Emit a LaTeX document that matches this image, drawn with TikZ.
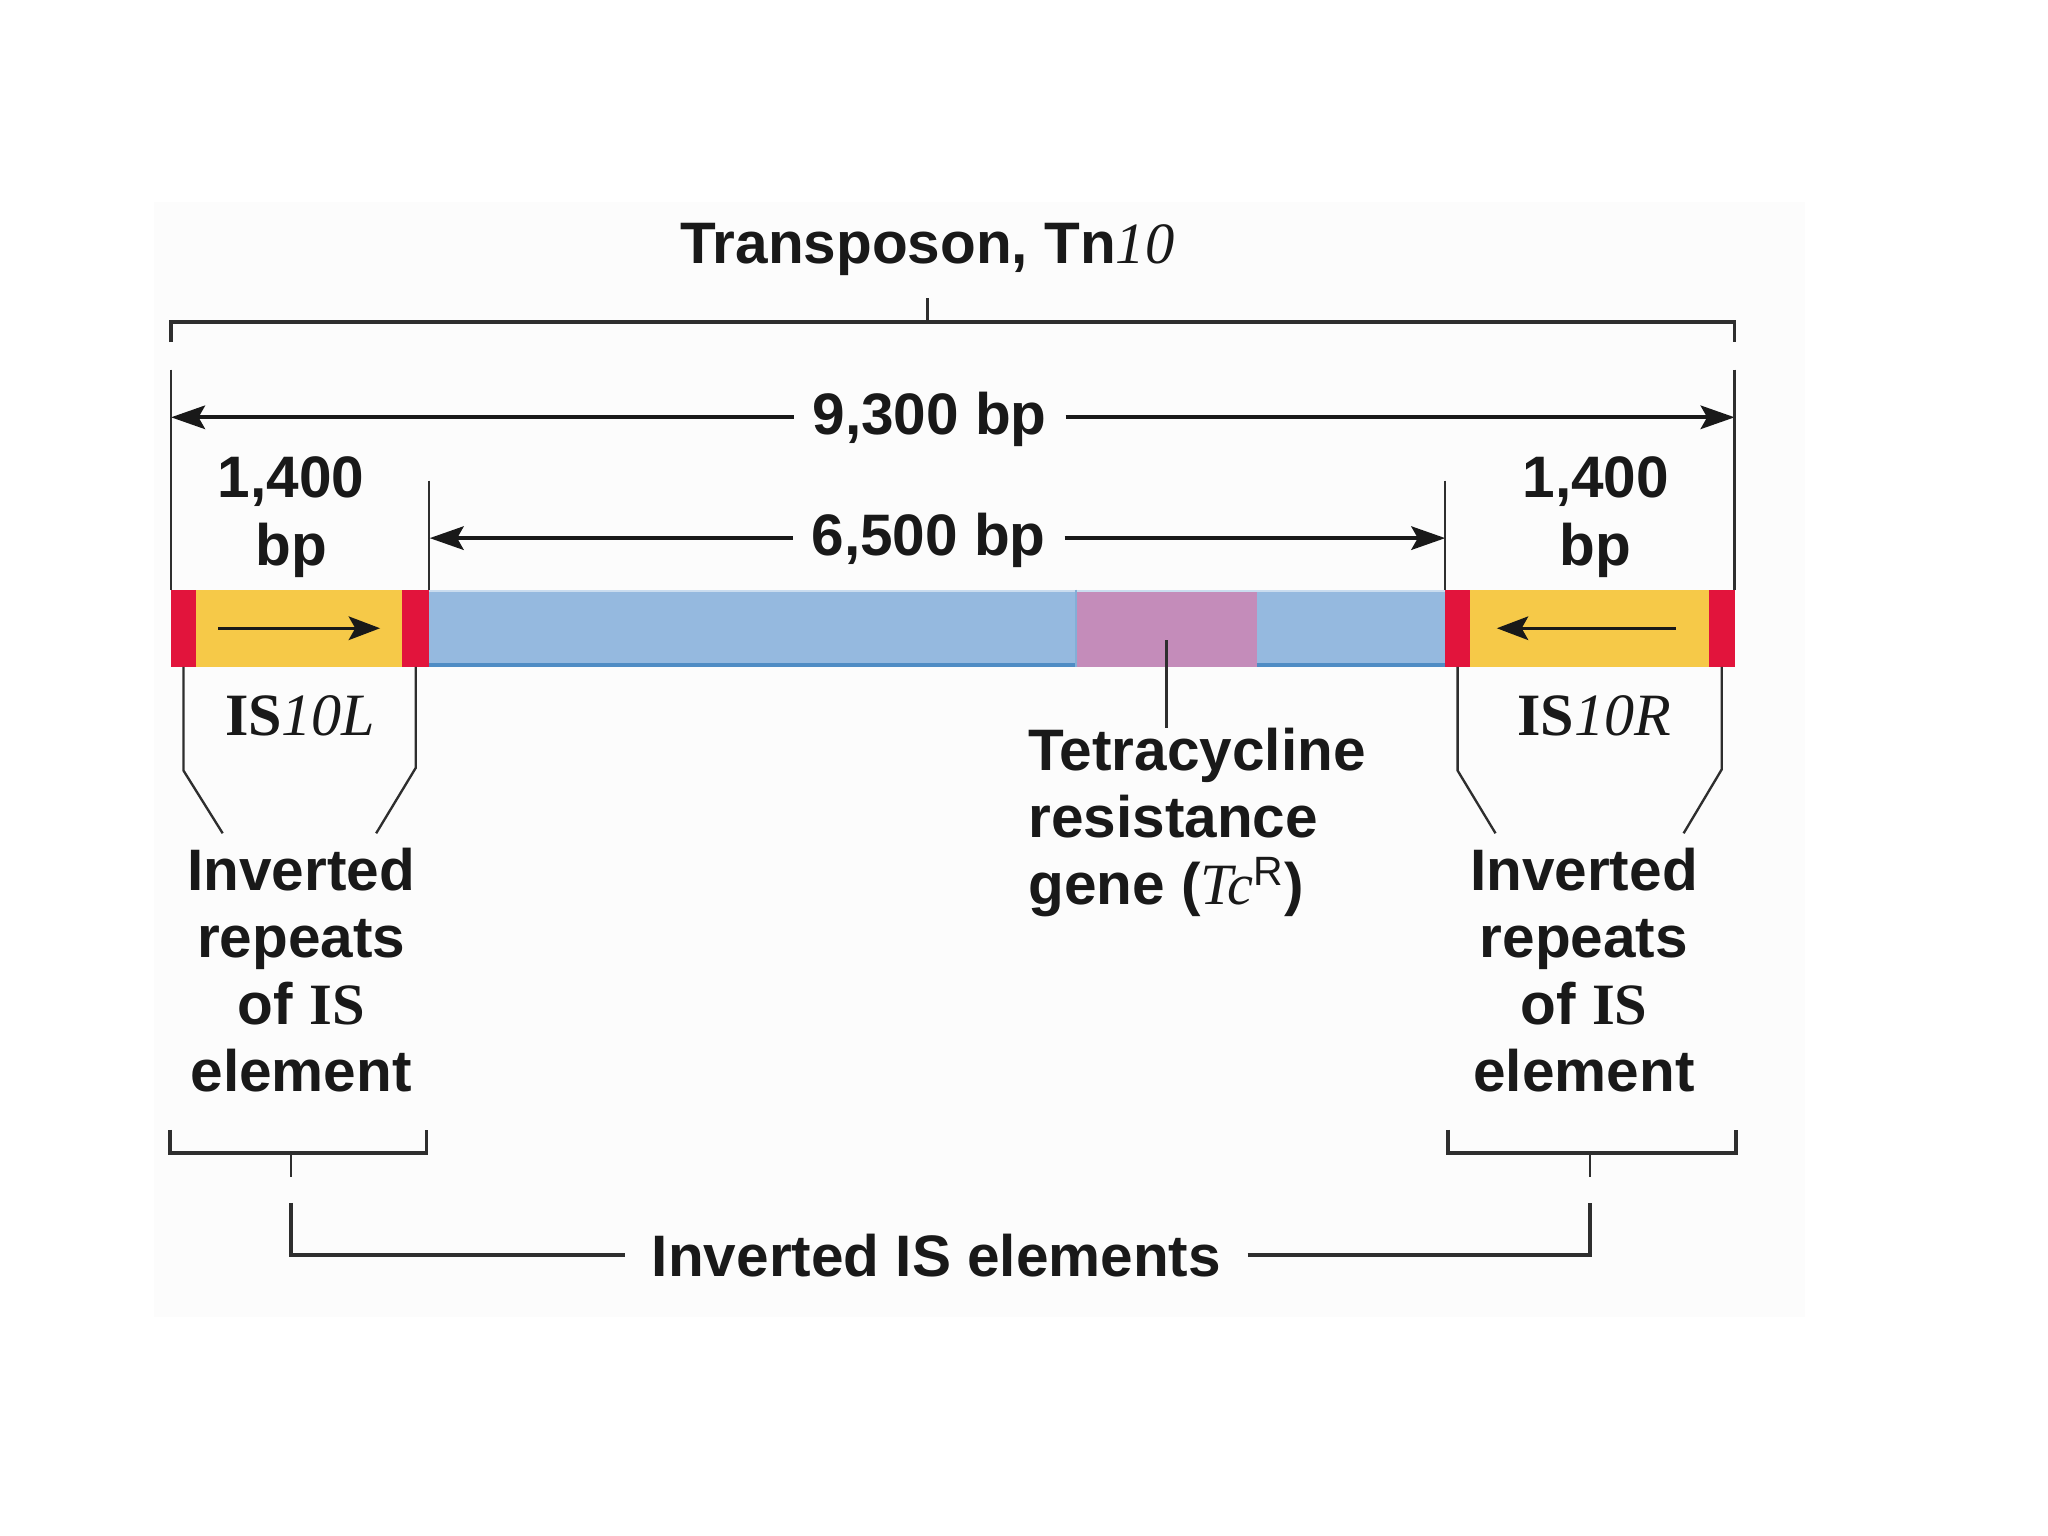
\documentclass[tikz,border=0pt]{standalone}
\usepackage{fontspec}
\setmainfont{Liberation Sans}
\newfontfamily\seriffam{Liberation Serif}
\usetikzlibrary{arrows.meta,fit}
\definecolor{isred}{HTML}{E2143C}
\definecolor{isyellow}{HTML}{F6C948}
\definecolor{tnblue}{HTML}{95B9DF}
\definecolor{tnpink}{HTML}{C48CBA}
\definecolor{blueedge}{HTML}{4F8CC4}
\definecolor{linegray}{HTML}{2E2E2E}
\begin{document}
\begin{tikzpicture}[x=0.5pt,y=-0.5pt,
  lab/.style={font=\fontsize{22.4}{25}\selectfont\bfseries, inner sep=0pt, text=black!90},
  seg/.style={inner sep=0pt, outer sep=0pt, draw=none},
  main/.style={line width=1.4pt, draw=linegray},
  thinl/.style={line width=0.9pt, draw=linegray},
  dimarrow/.style={line width=1.4pt, draw=black!90, -{Stealth[length=13pt,width=9pt,inset=2.5pt]}},
  barrow/.style={line width=1.3pt, draw=black!90, -{Stealth[length=12pt,width=9pt,inset=2.5pt]}},
]
\useasboundingbox (0,0) rectangle (1568,1176);
\fill[white] (0,0) rectangle (1568,1176);
\fill[black!1] (118,155) rectangle (1382,1008);

% ---- bar segments ----
\node[seg, fill=isred,    fit={(131,451.5) (150,510.5)}]    (redL1) {};
\node[seg, fill=isyellow, fit={(150,451.5) (308,510.5)}]    (yelL) {};
\node[seg, fill=isred,    fit={(308,451.5) (328.5,510.5)}]  (redL2) {};
\node[seg, fill=tnblue,   fit={(328.5,451.5) (824,510.5)}]  (blue1) {};
\node[seg, fill=tnpink,   fit={(824,451.5) (962,510.5)}]    (pink) {};
\node[seg, fill=tnblue,   fit={(962,451.5) (1106.5,510.5)}] (blue2) {};
\node[seg, fill=isred,    fit={(1106.5,451.5) (1125.5,510.5)}] (redR1) {};
\node[seg, fill=isyellow, fit={(1125.5,451.5) (1308.5,510.5)}] (yelR) {};
\node[seg, fill=isred,    fit={(1308.5,451.5) (1328,510.5)}] (redR2) {};
\draw[blueedge, line width=1.4pt] ([yshift=0.7pt]blue1.south west) -- ([yshift=0.7pt]blue1.south east);
\draw[blueedge, line width=1.4pt] ([yshift=0.7pt]blue2.south west) -- ([yshift=0.7pt]blue2.south east);
\draw[tnblue!50!white, line width=0.8pt] ([yshift=-0.4pt]blue1.north west) -- ([yshift=-0.4pt]blue2.north east);
\draw[blueedge!70, line width=0.7pt] (pink.north west) -- (pink.south west);

% ---- arrows inside IS elements ----
\coordinate (arLs) at (167,481);  \coordinate (arLe) at (291,481);
\coordinate (arRs) at (1283,481); \coordinate (arRe) at (1146,481);
\draw[barrow] (arLs) -- (arLe);
\draw[barrow] (arRs) -- (arRe);

% ---- texts ----
\node[lab, anchor=base] (title) at (710,201.5) {Transposon, Tn{\seriffam\mdseries\itshape 10}};
\node[lab, anchor=base, inner xsep=7pt] (d93) at (711.8,333) {9,300 bp};
\node[lab, anchor=base, inner xsep=7pt] (d65) at (711,425) {6,500 bp};
\node[lab, align=center, font=\fontsize{22.4}{26}\selectfont\bfseries] (bpL) at (222.8,396) {1,400\\bp};
\node[lab, align=center, font=\fontsize{22.4}{26}\selectfont\bfseries] (bpR) at (1221.7,396) {1,400\\bp};
\node[lab, anchor=base, font=\fontsize{23}{25}\selectfont\seriffam] (isL) at (229.8,563) {{\bfseries IS}{\itshape 10L}};
\node[lab, anchor=base, font=\fontsize{23}{25}\selectfont\seriffam] (isR) at (1220.5,563) {{\bfseries IS}{\itshape 10R}};
\node[lab, align=center, font=\fontsize{22.4}{25.6}\selectfont\bfseries] (irL) at (230.6,742.5) {Inverted\\repeats\\of {\seriffam IS}\\element};
\node[lab, align=center, font=\fontsize{22.4}{25.6}\selectfont\bfseries] (irR) at (1212.7,742.5) {Inverted\\repeats\\of {\seriffam IS}\\element};
\node[lab, align=left, anchor=west, font=\fontsize{22.4}{25.6}\selectfont\bfseries] (tet) at (787,630) {Tetracycline\\resistance\\gene ({\seriffam\mdseries\itshape Tc}\textsuperscript{\mdseries R})};
\node[lab, anchor=base, inner xsep=10pt] (ise) at (717,977) {Inverted IS elements};

% ---- top bracket ----
\coordinate (tbL) at (131,262);    \coordinate (tbLc) at (131,246.3);
\coordinate (tbRc) at (1328,246.3); \coordinate (tbR) at (1328,262);
\coordinate (tbM) at (710,246.3);  \coordinate (tbT) at (710,228);
\draw[main] (tbL) -- (tbLc) -- (tbRc) -- (tbR);
\draw[thinl] (tbM) -- (tbT);

% ---- dimension lines ----
\coordinate (a93L) at (131,319.5);  \coordinate (a93R) at (1328,319.5);
\coordinate (a65L) at (329,412);    \coordinate (a65R) at (1106.5,412);
\draw[dimarrow] (a93L -| d93.west) -- (a93L);
\draw[dimarrow] (a93R -| d93.east) -- (a93R);
\draw[dimarrow] (a65L -| d65.west) -- (a65L);
\draw[dimarrow] (a65R -| d65.east) -- (a65R);
\coordinate (e93L) at (131,283);   \coordinate (e93R) at (1328,283);
\coordinate (e65L) at (328.5,368); \coordinate (e65R) at (1106.5,368);
\draw[thinl] (e93L) -- (redL1.north west);
\draw[thinl] (e93R) -- (redR2.north east);
\draw[thinl] (e65L) -- (blue1.north west);
\draw[thinl] (e65R) -- (blue2.north east);

% ---- inverted repeat pointers ----
\coordinate (kL1) at (140.5,590);   \coordinate (kL1e) at (170.5,638);
\coordinate (kL2) at (318.25,588);  \coordinate (kL2e) at (288,638);
\coordinate (kR1) at (1116,590);    \coordinate (kR1e) at (1145,638);
\coordinate (kR2) at (1318.25,589); \coordinate (kR2e) at (1289,638);
\draw[thinl] (redL1.south) -- (kL1) -- (kL1e);
\draw[thinl] (redL2.south) -- (kL2) -- (kL2e);
\draw[thinl] (redR1.south) -- (kR1) -- (kR1e);
\draw[thinl] (redR2.south) -- (kR2) -- (kR2e);

% ---- tetracycline pointer ----
\coordinate (tcA) at (893,490); \coordinate (tcB) at (893,557);
\draw[thinl] (tcA) -- (tcB);

% ---- bottom brackets ----
\coordinate (bL1) at (130,865);   \coordinate (bL2) at (130,883);
\coordinate (bL3) at (326.6,883); \coordinate (bL4) at (326.6,865);
\coordinate (bLm) at (222.8,883); \coordinate (bLt) at (222.8,901);
\coordinate (bLv) at (222.8,921);
\coordinate (bR1) at (1108.7,865); \coordinate (bR2) at (1108.7,883);
\coordinate (bR3) at (1329,883);   \coordinate (bR4) at (1329,865);
\coordinate (bRm) at (1217.5,883); \coordinate (bRt) at (1217.5,901);
\coordinate (bRv) at (1217.5,921);
\draw[main] (bL1) -- (bL2) -- (bL3) -- (bL4);
\draw[main] (bR1) -- (bR2) -- (bR3) -- (bR4);
\draw[thinl] (bLm) -- (bLt);
\draw[thinl] (bRm) -- (bRt);
\draw[main] (bLv) |- (ise.west);
\draw[main] (ise.east) -| (bRv);
\end{tikzpicture}
\end{document}
